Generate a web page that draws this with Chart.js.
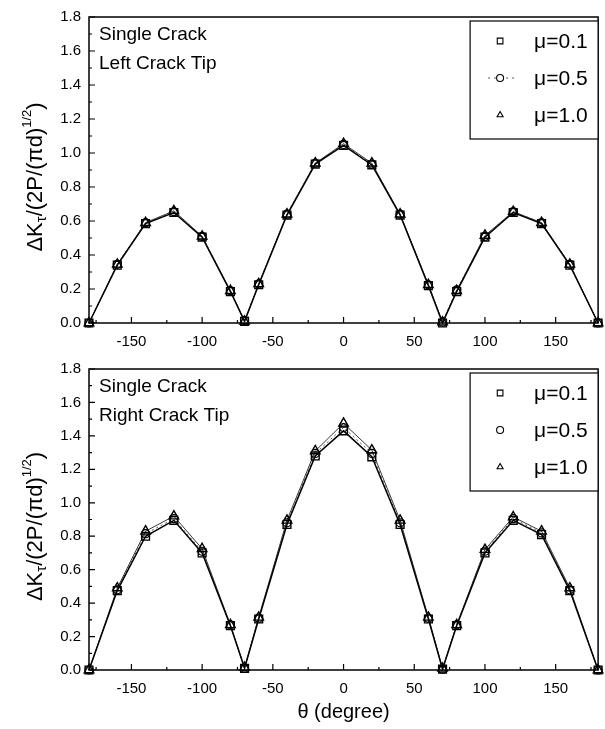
<!DOCTYPE html>
<html>
<head>
<meta charset="utf-8">
<script src="https://cdn.jsdelivr.net/npm/chart.js@4/dist/chart.umd.min.js"></script>
<style>
  body { margin: 0; background: #fff; }
  canvas { position: absolute; left: 0; }
</style>
</head>
<body>
<canvas id="leftTip" width="605" height="352" style="top:0"></canvas>
<canvas id="rightTip" width="605" height="377" style="top:352px"></canvas>
<script>
// crack angle, degrees
const theta = [-180, -160, -140, -120, -100, -80, -70, -60, -40, -20, 0, 20, 40, 60, 70, 80, 100, 120, 140, 160, 180];

// left crack tip
const leftMu01 = [0.00, 0.34, 0.585, 0.65, 0.505, 0.185, 0.01, 0.225, 0.635, 0.935, 1.045, 0.93, 0.635, 0.22, 0.00, 0.185, 0.505, 0.65, 0.585, 0.34, 0.00];
const leftMu05 = [0.00, 0.345, 0.59, 0.655, 0.51, 0.19, 0.015, 0.23, 0.64, 0.94, 1.05, 0.935, 0.64, 0.225, 0.005, 0.195, 0.51, 0.655, 0.59, 0.345, 0.00];
const leftMu10 = [0.00, 0.345, 0.59, 0.66, 0.51, 0.19, 0.01, 0.23, 0.64, 0.94, 1.055, 0.94, 0.64, 0.225, 0.005, 0.19, 0.515, 0.655, 0.59, 0.345, 0.00];

// right crack tip
const rightMu01 = [0.00, 0.475, 0.80, 0.895, 0.70, 0.265, 0.01, 0.305, 0.87, 1.28, 1.43, 1.275, 0.87, 0.305, 0.005, 0.265, 0.70, 0.895, 0.81, 0.475, 0.00];
const rightMu05 = [0.00, 0.48, 0.815, 0.905, 0.71, 0.27, 0.01, 0.31, 0.88, 1.295, 1.45, 1.295, 0.88, 0.31, 0.005, 0.27, 0.71, 0.905, 0.82, 0.48, 0.00];
const rightMu10 = [0.00, 0.49, 0.83, 0.92, 0.725, 0.27, 0.015, 0.315, 0.895, 1.31, 1.475, 1.315, 0.895, 0.315, 0.01, 0.27, 0.72, 0.915, 0.83, 0.49, 0.00];

const seriesLabels = ['μ=0.1', 'μ=0.5', 'μ=1.0'];
const xTicks = [-150, -100, -50, 0, 50, 100, 150];
const yTicks = [0, 0.2, 0.4, 0.6, 0.8, 1.0, 1.2, 1.4, 1.6, 1.8];

const FONT = '"Liberation Sans", Arial, sans-serif';

function toPoints(ys) {
    return theta.map((t, i) => ({ x: t, y: ys[i] }));
}

function makeDatasets(a, b, c) {
    return [
        { label: seriesLabels[0], data: toPoints(a), pointStyle: 'rect', pointRadius: 5.5,
          borderColor: '#000', borderWidth: 1.5, pointBorderWidth: 1.4 },
        { label: seriesLabels[1], data: toPoints(b), pointStyle: 'circle', pointRadius: 4,
          borderColor: '#555', borderWidth: 1, borderDash: [2, 3], pointBorderWidth: 1.2 },
        { label: seriesLabels[2], data: toPoints(c), pointStyle: 'triangle', pointRadius: 5.5,
          borderColor: '#222', borderWidth: 0.9, pointBorderWidth: 1.4 }
    ].map(d => Object.assign(d, {
        backgroundColor: 'rgba(0,0,0,0)', pointBorderColor: '#000', tension: 0, clip: false
    }));
}

// frame, inward ticks, notes, legend box and the y title
const panelDecor = {
    id: 'panelDecor',
    afterDraw(chart, args, opts) {
        const ctx = chart.ctx;
        const a = chart.chartArea;
        const xs = chart.scales.x, ys = chart.scales.y;
        ctx.save();
        ctx.strokeStyle = '#000';
        ctx.lineWidth = 1.5;
        ctx.strokeRect(a.left, a.top, a.right - a.left, a.bottom - a.top);

        ctx.lineWidth = 1.2;
        ctx.beginPath();
        xTicks.forEach(v => {
            const p = xs.getPixelForValue(v);
            ctx.moveTo(p, a.bottom); ctx.lineTo(p, a.bottom - 6);
            const m = xs.getPixelForValue(v + 25);
            ctx.moveTo(m, a.bottom); ctx.lineTo(m, a.bottom - 3);
        });
        const m0 = xs.getPixelForValue(-175);
        ctx.moveTo(m0, a.bottom); ctx.lineTo(m0, a.bottom - 3);
        yTicks.forEach(v => {
            const p = ys.getPixelForValue(v);
            ctx.moveTo(a.left, p); ctx.lineTo(a.left + 6, p);
            if (v < 1.8) {
                const m = ys.getPixelForValue(v + 0.1);
                ctx.moveTo(a.left, m); ctx.lineTo(a.left + 3, m);
            }
        });
        ctx.stroke();

        // notes
        ctx.fillStyle = '#000';
        ctx.font = '19px ' + FONT;
        ctx.textBaseline = 'middle';
        ctx.textAlign = 'left';
        opts.notes.forEach((t, i) => ctx.fillText(t, a.left + 10, a.top + 18 + i * 29));

        // legend
        const bl = a.right - 128, bt = a.top + 4, bw = 128, bh = 118;
        ctx.fillStyle = '#fff';
        ctx.fillRect(bl, bt, bw, bh);
        ctx.lineWidth = 1.2;
        ctx.strokeRect(bl, bt, bw, bh);
        chart.data.datasets.forEach((d, i) => {
            const cy = bt + 20 + i * 37;
            if (opts.legendLine && d.borderDash) {
                ctx.save();
                ctx.strokeStyle = '#555';
                ctx.lineWidth = 1;
                ctx.setLineDash([2, 4]);
                ctx.beginPath();
                ctx.moveTo(bl + 18, cy); ctx.lineTo(bl + 46, cy);
                ctx.stroke();
                ctx.restore();
            }
            ctx.lineWidth = 1.1;
            ctx.fillStyle = '#fff';
            Chart.helpers.drawPoint(ctx, {
                pointStyle: d.pointStyle, radius: d.pointStyle === 'rect' ? 4 : 3.5, rotation: 0, borderWidth: 1.1
            }, bl + 30, cy);
            ctx.fillStyle = '#000';
            ctx.font = '21px ' + FONT;
            ctx.textBaseline = 'middle';
            ctx.fillText(d.label, bl + 64, cy + 1);
        });

        // y title: ΔKτ/(2P/(πd)^1/2)
        const parts = [['ΔK', 22, 0], ['τ', 15, 4], ['/(2P/(πd)', 22, 0], ['1/2', 13, -11], [')', 22, 0]];
        let total = 0;
        parts.forEach(p => { ctx.font = p[1] + 'px ' + FONT; total += ctx.measureText(p[0]).width; });
        ctx.translate(42, (a.top + a.bottom) / 2 + 7);
        ctx.rotate(-Math.PI / 2);
        ctx.textBaseline = 'alphabetic';
        let x = -total / 2;
        parts.forEach(p => {
            ctx.font = p[1] + 'px ' + FONT;
            ctx.fillText(p[0], x, p[2]);
            x += ctx.measureText(p[0]).width;
        });
        ctx.restore();
    }
};

function makeChart(id, datasets, notes, axisH, padTop, showTitle, legendLine) {
    return new Chart(document.getElementById(id), {
        type: 'line',
        data: { datasets: datasets },
        options: {
            responsive: false,
            animation: false,
            layout: { padding: { top: padTop, right: 4, left: 0, bottom: 0 } },
            plugins: {
                legend: { display: false },
                tooltip: { enabled: false },
                panelDecor: { notes: notes, legendLine: legendLine }
            },
            scales: {
                x: {
                    type: 'linear', min: -180, max: 180,
                    afterBuildTicks: s => { s.ticks = xTicks.map(v => ({ value: v })); },
                    afterFit: s => { s.height = axisH; },
                    grid: { display: false, drawTicks: false },
                    border: { display: false },
                    ticks: { color: '#000', font: { family: FONT, size: 15 }, padding: 10, maxRotation: 0, autoSkip: false },
                    title: { display: showTitle, text: 'θ (degree)', color: '#000',
                             font: { family: FONT, size: 20 }, padding: { top: 4, bottom: 5 } }
                },
                y: {
                    min: 0, max: 1.8,
                    afterBuildTicks: s => { s.ticks = yTicks.map(v => ({ value: v })); },
                    afterFit: s => { s.width = 89; },
                    grid: { display: false, drawTicks: false },
                    border: { display: false },
                    ticks: { color: '#000', font: { family: FONT, size: 15 }, padding: 8,
                             callback: v => v.toFixed(1) }
                }
            }
        },
        plugins: [panelDecor]
    });
}

makeChart('leftTip', makeDatasets(leftMu01, leftMu05, leftMu10),
    ['Single Crack', 'Left Crack Tip'], 29, 14, false, true);
makeChart('rightTip', makeDatasets(rightMu01, rightMu05, rightMu10),
    ['Single Crack', 'Right Crack Tip'], 59, 10, true, false);
</script>
</body>
</html>
